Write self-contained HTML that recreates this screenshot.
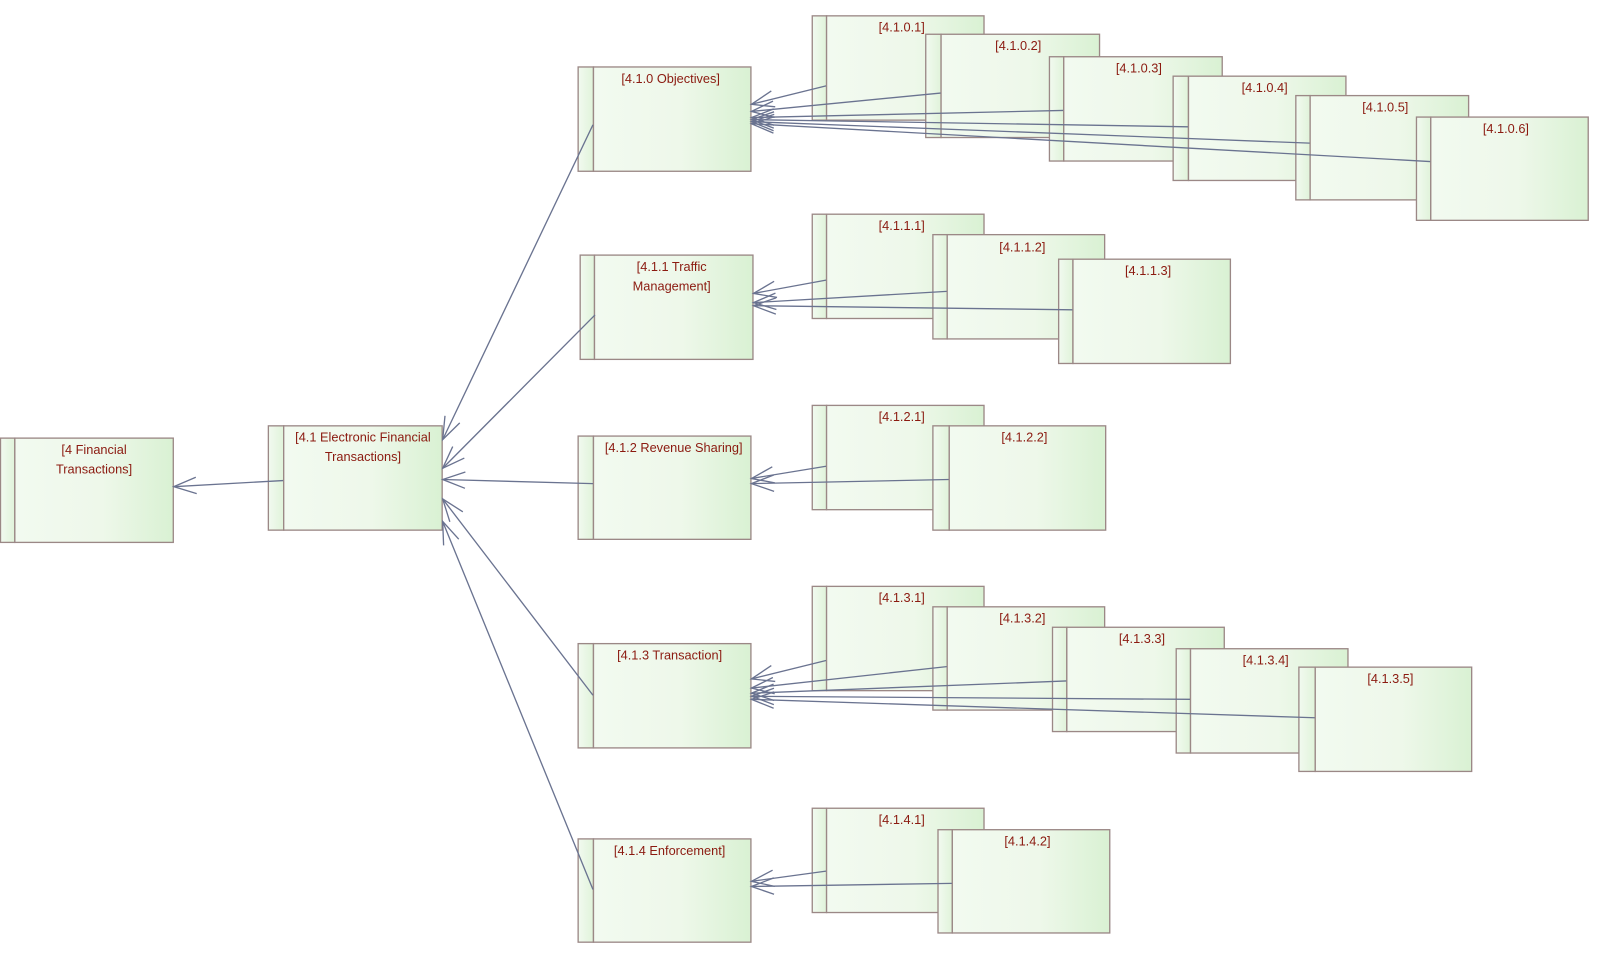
<!DOCTYPE html>
<html><head><meta charset="utf-8"><style>
html,body{margin:0;padding:0;background:#fff;overflow:hidden;}
svg{display:block;}
text{font-family:"Liberation Sans",sans-serif;font-size:12.5px;fill:#8b1a10;text-anchor:middle;}
.s{fill:url(#gs);stroke:#9b8886;stroke-width:1.3;}
.m{fill:url(#gm);stroke:#9b8886;stroke-width:1.3;}
.l{stroke:#6a7390;stroke-width:1.3;fill:none;marker-end:url(#ar);}
</style></head><body>
<svg width="1601" height="957" viewBox="0 0 1566 936" preserveAspectRatio="none" xmlns="http://www.w3.org/2000/svg">
<defs>
<linearGradient id="gm" x1="0" x2="1" y1="0" y2="0"><stop offset="0" stop-color="#f2faf0"/><stop offset="0.55" stop-color="#eef8ea"/><stop offset="1" stop-color="#d9f1d3"/></linearGradient>
<linearGradient id="gs" x1="0" x2="1" y1="0" y2="0"><stop offset="0" stop-color="#f2faf0"/><stop offset="1" stop-color="#e0f3da"/></linearGradient>
<marker id="ar" markerUnits="userSpaceOnUse" markerWidth="30" markerHeight="30" viewBox="-25 -12 30 24" refX="0" refY="0" orient="auto">
<path d="M-22,-8 L0,0 L-22,8" fill="none" stroke="#6a7390" stroke-width="1.3"/></marker>
</defs>

<rect class="s" x="0.5" y="428.5" width="14" height="102"/><rect class="m" x="14.5" y="428.5" width="155" height="102"/>
<text x="92" y="444">[4 Financial</text><text x="92" y="463">Transactions]</text>

<rect class="s" x="262.5" y="416.5" width="15" height="102"/><rect class="m" x="277.5" y="416.5" width="155" height="102"/>
<text x="355" y="432">[4.1 Electronic Financial</text><text x="355" y="451">Transactions]</text>

<rect class="s" x="565.5" y="65.5" width="15" height="102"/><rect class="m" x="580.5" y="65.5" width="154" height="102"/>
<text x="656" y="81">[4.1.0 Objectives]</text>

<rect class="s" x="567.5" y="249.5" width="14" height="102"/><rect class="m" x="581.5" y="249.5" width="155" height="102"/>
<text x="657" y="265">[4.1.1 Traffic</text><text x="657" y="284">Management]</text>

<rect class="s" x="565.5" y="426.5" width="15" height="101"/><rect class="m" x="580.5" y="426.5" width="154" height="101"/>
<text x="659" y="442">[4.1.2 Revenue Sharing]</text>

<rect class="s" x="565.5" y="629.5" width="15" height="102"/><rect class="m" x="580.5" y="629.5" width="154" height="102"/>
<text x="655" y="645">[4.1.3 Transaction]</text>

<rect class="s" x="565.5" y="820.5" width="15" height="101"/><rect class="m" x="580.5" y="820.5" width="154" height="101"/>
<text x="655" y="836">[4.1.4 Enforcement]</text>

<rect class="s" x="794.5" y="15.5" width="14" height="102"/><rect class="m" x="808.5" y="15.5" width="154" height="102"/><text x="882" y="31">[4.1.0.1]</text>
<rect class="s" x="905.5" y="33.5" width="15" height="101"/><rect class="m" x="920.5" y="33.5" width="155" height="101"/><text x="996" y="49">[4.1.0.2]</text>
<rect class="s" x="1026.5" y="55.5" width="14" height="102"/><rect class="m" x="1040.5" y="55.5" width="155" height="102"/><text x="1114" y="71">[4.1.0.3]</text>
<rect class="s" x="1147.5" y="74.5" width="15" height="102"/><rect class="m" x="1162.5" y="74.5" width="154" height="102"/><text x="1237" y="90">[4.1.0.4]</text>
<rect class="s" x="1267.5" y="93.5" width="14" height="102"/><rect class="m" x="1281.5" y="93.5" width="155" height="102"/><text x="1355" y="109">[4.1.0.5]</text>
<rect class="s" x="1385.5" y="114.5" width="14" height="101"/><rect class="m" x="1399.5" y="114.5" width="154" height="101"/><text x="1473" y="130">[4.1.0.6]</text>

<rect class="s" x="794.5" y="209.5" width="14" height="102"/><rect class="m" x="808.5" y="209.5" width="154" height="102"/><text x="882" y="225">[4.1.1.1]</text>
<rect class="s" x="912.5" y="229.5" width="14" height="102"/><rect class="m" x="926.5" y="229.5" width="154" height="102"/><text x="1000" y="246">[4.1.1.2]</text>
<rect class="s" x="1035.5" y="253.5" width="14" height="102"/><rect class="m" x="1049.5" y="253.5" width="154" height="102"/><text x="1123" y="269">[4.1.1.3]</text>

<rect class="s" x="794.5" y="396.5" width="14" height="102"/><rect class="m" x="808.5" y="396.5" width="154" height="102"/><text x="882" y="412">[4.1.2.1]</text>
<rect class="s" x="912.5" y="416.5" width="16" height="102"/><rect class="m" x="928.5" y="416.5" width="153" height="102"/><text x="1002" y="432">[4.1.2.2]</text>

<rect class="s" x="794.5" y="573.5" width="14" height="102"/><rect class="m" x="808.5" y="573.5" width="154" height="102"/><text x="882" y="589">[4.1.3.1]</text>
<rect class="s" x="912.5" y="593.5" width="14" height="101"/><rect class="m" x="926.5" y="593.5" width="154" height="101"/><text x="1000" y="609">[4.1.3.2]</text>
<rect class="s" x="1029.5" y="613.5" width="14" height="102"/><rect class="m" x="1043.5" y="613.5" width="154" height="102"/><text x="1117" y="629">[4.1.3.3]</text>
<rect class="s" x="1150.5" y="634.5" width="14" height="102"/><rect class="m" x="1164.5" y="634.5" width="154" height="102"/><text x="1238" y="650">[4.1.3.4]</text>
<rect class="s" x="1270.5" y="652.5" width="16" height="102"/><rect class="m" x="1286.5" y="652.5" width="153" height="102"/><text x="1360" y="668">[4.1.3.5]</text>

<rect class="s" x="794.5" y="790.5" width="14" height="102"/><rect class="m" x="808.5" y="790.5" width="154" height="102"/><text x="882" y="806">[4.1.4.1]</text>
<rect class="s" x="917.5" y="811.5" width="14" height="101"/><rect class="m" x="931.5" y="811.5" width="154" height="101"/><text x="1005" y="827">[4.1.4.2]</text>

<line class="l" x1="277" y1="470" x2="170" y2="476"/>
<line class="l" x1="580" y1="122" x2="433" y2="430"/>
<line class="l" x1="582" y1="308" x2="433" y2="458"/>
<line class="l" x1="580" y1="473" x2="433" y2="469"/>
<line class="l" x1="580" y1="680" x2="433" y2="488"/>
<line class="l" x1="580" y1="870" x2="433" y2="510"/>

<line class="l" x1="808" y1="84" x2="735" y2="102"/>
<line class="l" x1="920" y1="91" x2="735" y2="109"/>
<line class="l" x1="1040" y1="108" x2="735" y2="115"/>
<line class="l" x1="1162" y1="124" x2="735" y2="117"/>
<line class="l" x1="1281" y1="140" x2="735" y2="119"/>
<line class="l" x1="1399" y1="158" x2="735" y2="121"/>

<line class="l" x1="808" y1="274" x2="737" y2="287"/>
<line class="l" x1="926" y1="285" x2="737" y2="296"/>
<line class="l" x1="1049" y1="303" x2="737" y2="299"/>

<line class="l" x1="808" y1="456" x2="735" y2="468"/>
<line class="l" x1="928" y1="469" x2="735" y2="473"/>

<line class="l" x1="808" y1="646" x2="735" y2="664"/>
<line class="l" x1="926" y1="652" x2="735" y2="673"/>
<line class="l" x1="1043" y1="666" x2="735" y2="678"/>
<line class="l" x1="1164" y1="684" x2="735" y2="681"/>
<line class="l" x1="1286" y1="702" x2="735" y2="684"/>

<line class="l" x1="808" y1="852" x2="735" y2="862"/>
<line class="l" x1="931" y1="864" x2="735" y2="867"/>
</svg>
</body></html>
